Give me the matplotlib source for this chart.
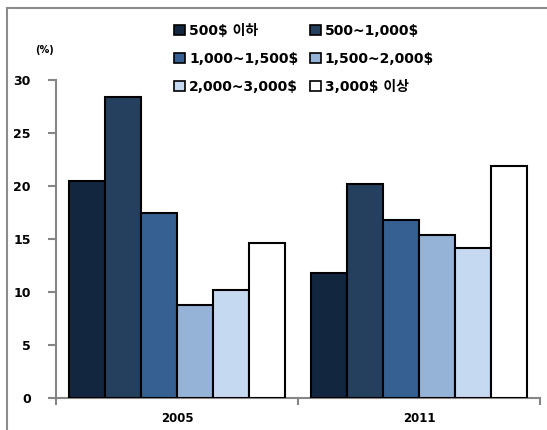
import matplotlib
matplotlib.use("Agg")
import matplotlib.pyplot as plt
from matplotlib.lines import Line2D
from matplotlib.patches import Patch
import numpy as np

plt.rcParams['font.family'] = ['DejaVu Sans', 'Noto Sans CJK KR']
plt.rcParams['font.weight'] = 'bold'

years = ["2005", "2011"]
brackets = ["500$ 이하", "500~1,000$", "1,000~1,500$", "1,500~2,000$", "2,000~3,000$", "3,000$ 이상"]
share_2005 = [20.5, 28.4, 17.4, 8.8, 10.2, 14.6]
share_2011 = [11.8, 20.2, 16.8, 15.4, 14.1, 21.9]
colors = ["#12263f", "#253f5f", "#366092", "#95b3d7", "#c5d9f1", "#ffffff"]

W, H = 547, 430
fig = plt.figure(figsize=(W / 100, H / 100), dpi=100)

# outer frame: left and top edges
frame_kw = dict(transform=fig.transFigure, color="#8c8c8c", linewidth=1.5, zorder=0)
fig.lines.append(Line2D([7 / W, 7 / W], [0, 1 - 8 / H], **frame_kw))
fig.lines.append(Line2D([7 / W, 1], [1 - 8 / H, 1 - 8 / H], **frame_kw))

ax = fig.add_axes([56 / W, (H - 397.7) / H, (540 - 56) / W, (397.7 - 80) / H])

values = np.array([share_2005, share_2011])
bw = 36 / 242
offset0 = 13 / 242
for i, (name, col) in enumerate(zip(brackets, colors)):
    xs = np.arange(len(years)) + offset0 + i * bw
    ax.bar(xs, values[:, i], width=bw, align="edge", color=col,
           edgecolor="black", linewidth=1.5, label=name, zorder=3)

ax.set_xlim(0, 2)
ax.set_ylim(0, 30)
ax.set_yticks(np.arange(0, 31, 5))
ax.set_yticklabels([str(v) for v in range(0, 31, 5)], fontsize=9, fontweight="bold")
ax.set_xticks([0, 1, 2])
ax.set_xticklabels([])
ax.set_xticks([0.5, 1.5], minor=True)
ax.set_xticklabels(years, minor=True, fontsize=8.5, fontweight="bold")
ax.tick_params(axis="x", which="minor", length=0, pad=10)
ax.tick_params(axis="x", which="major", length=5, color="#868686", width=1.5, direction="out")
ax.tick_params(axis="y", length=6, color="#868686", width=1.5, direction="out", pad=12)

for s in ["top", "right"]:
    ax.spines[s].set_visible(False)
for s in ["left", "bottom"]:
    ax.spines[s].set_color("#868686")
    ax.spines[s].set_linewidth(1.5)

fig.text(45 / W, 1 - 50 / H, "(%)", fontsize=7, fontweight="bold", ha="center", va="center")

handles = [Patch(facecolor=c, edgecolor="black", linewidth=1.2) for c in colors]
order = [0, 2, 4, 1, 3, 5]
leg = fig.legend([handles[k] for k in order], [brackets[k] for k in order],
                 ncol=2, loc="upper left", bbox_to_anchor=(174 / W, 1 - 24 / H),
                 frameon=False, fontsize=10, handlelength=0.8, handleheight=0.8,
                 handletextpad=0.3, labelspacing=1.0, columnspacing=0.8,
                 borderpad=0, borderaxespad=0)
for t in leg.get_texts():
    t.set_fontweight("bold")

fig.savefig("out.png", dpi=100)
